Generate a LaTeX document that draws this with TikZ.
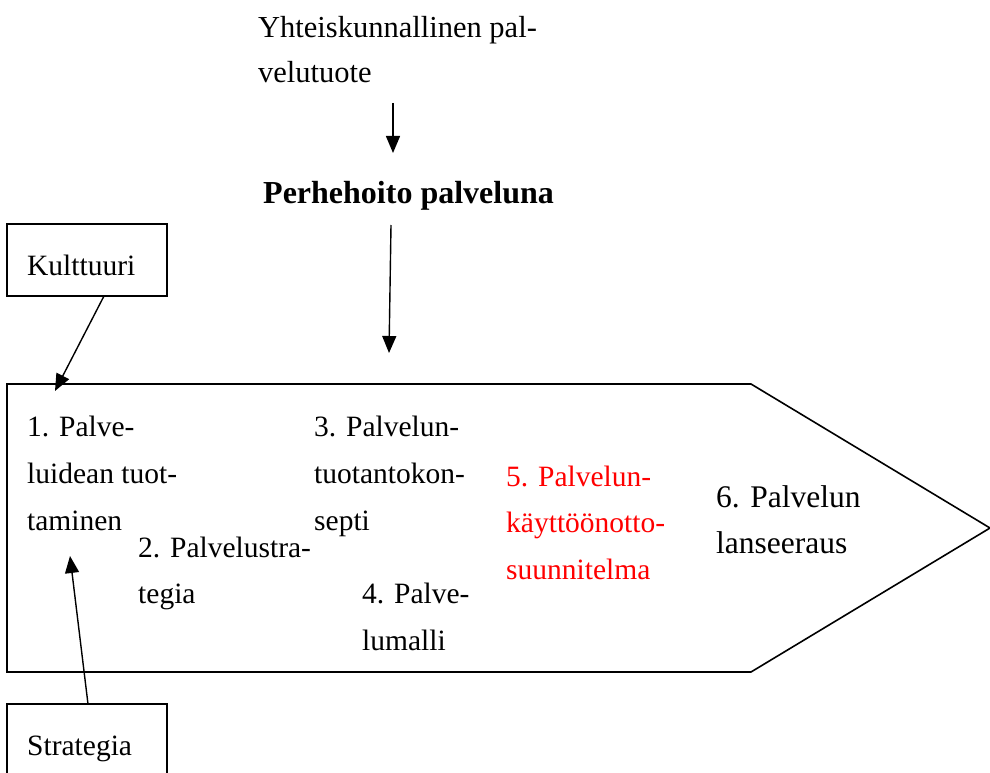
\documentclass[tikz,border=0pt]{standalone}
\usepackage{fontspec}
\setmainfont{Liberation Serif}
\usetikzlibrary{arrows.meta}
\begin{document}
\begin{tikzpicture}[x=1pt,y=-1pt,
  txt/.style={anchor=base west,inner sep=0pt,font=\fontsize{29.5}{30}\selectfont},
  top/.style={anchor=base west,inner sep=0pt,font=\fontsize{30.5}{31}\selectfont},
  big/.style={anchor=base west,inner sep=0pt,font=\fontsize{31.5}{32}\selectfont},
  box/.style={draw,line width=1.6pt,inner sep=0pt},
  arr/.style={line width=1.4pt,-{Triangle[length=17pt,width=14pt]}},
  edge/.style={line width=1.6pt,line join=miter}]
\useasboundingbox (0,0) rectangle (990,773);
\begin{scope}
\clip (0,0) rectangle (990,773);
% boxes
\node[box,minimum width=160pt,minimum height=72pt] (kult) at (87,260) {};
\node[box,minimum width=160pt,minimum height=100pt] (strat) at (87,754) {};
\end{scope}
% pentagon
\coordinate (p1) at (7,384);
\coordinate (p2) at (751,384);
\coordinate (p3) at (990,528);
\coordinate (p4) at (751,672);
\coordinate (p5) at (7,672);
\draw[edge] (p1) -- (p2) -- (p3) -- (p4) -- (p5) -- cycle;
% texts
\node[top] (t1a) at (258,38) {Yhteiskunnallinen pal-};
\node[top] (t1b) at (258,83) {velutuote};
\node[top,font=\fontsize{32}{33}\selectfont\bfseries] (perhe) at (263,203) {Perhehoito palveluna};
\node[txt] (kt) at (27,275) {Kulttuuri};
\node[txt] (st) at (27,755) {Strategia};
\node[txt] (a1) at (27,436) {1. Palve-};
\node[txt] (a2) at (27,483) {luidean tuot-};
\node[txt] (a3) at (27,530) {taminen};
\node[txt] (b1) at (138,557) {2. Palvelustra-};
\node[txt] (b2) at (138,603) {tegia};
\node[txt] (c1) at (314,436) {3. Palvelun-};
\node[txt] (c2) at (314,483) {tuotantokon-};
\node[txt] (c3) at (314,530) {septi};
\node[txt] (d1) at (362,603) {4. Palve-};
\node[txt] (d2) at (362,650) {lumalli};
\node[txt,text=red] (e1) at (506,486) {5. Palvelun-};
\node[txt,text=red] (e2) at (506,532) {käyttöönotto-};
\node[txt,text=red] (e3) at (506,579) {suunnitelma};
\node[big] (f1) at (716,507) {6. Palvelun};
\node[big] (f2) at (716,553) {lanseeraus};
% arrows
\coordinate (ar1s) at (393,103);
\coordinate (ar1e) at (393,153);
\draw[arr] (ar1s) -- (ar1e);
\coordinate (ar2s) at (391,225);
\coordinate (ar2e) at (389,353);
\draw[arr] (ar2s) -- (ar2e);
\coordinate (kbot) at (104,296);
\coordinate (ktip) at (55,391);
\draw[arr] (kbot) -- (ktip);
\coordinate (stop) at (88,704);
\coordinate (stip) at (70,556);
\draw[arr] (stop) -- (stip);
\end{tikzpicture}
\end{document}
